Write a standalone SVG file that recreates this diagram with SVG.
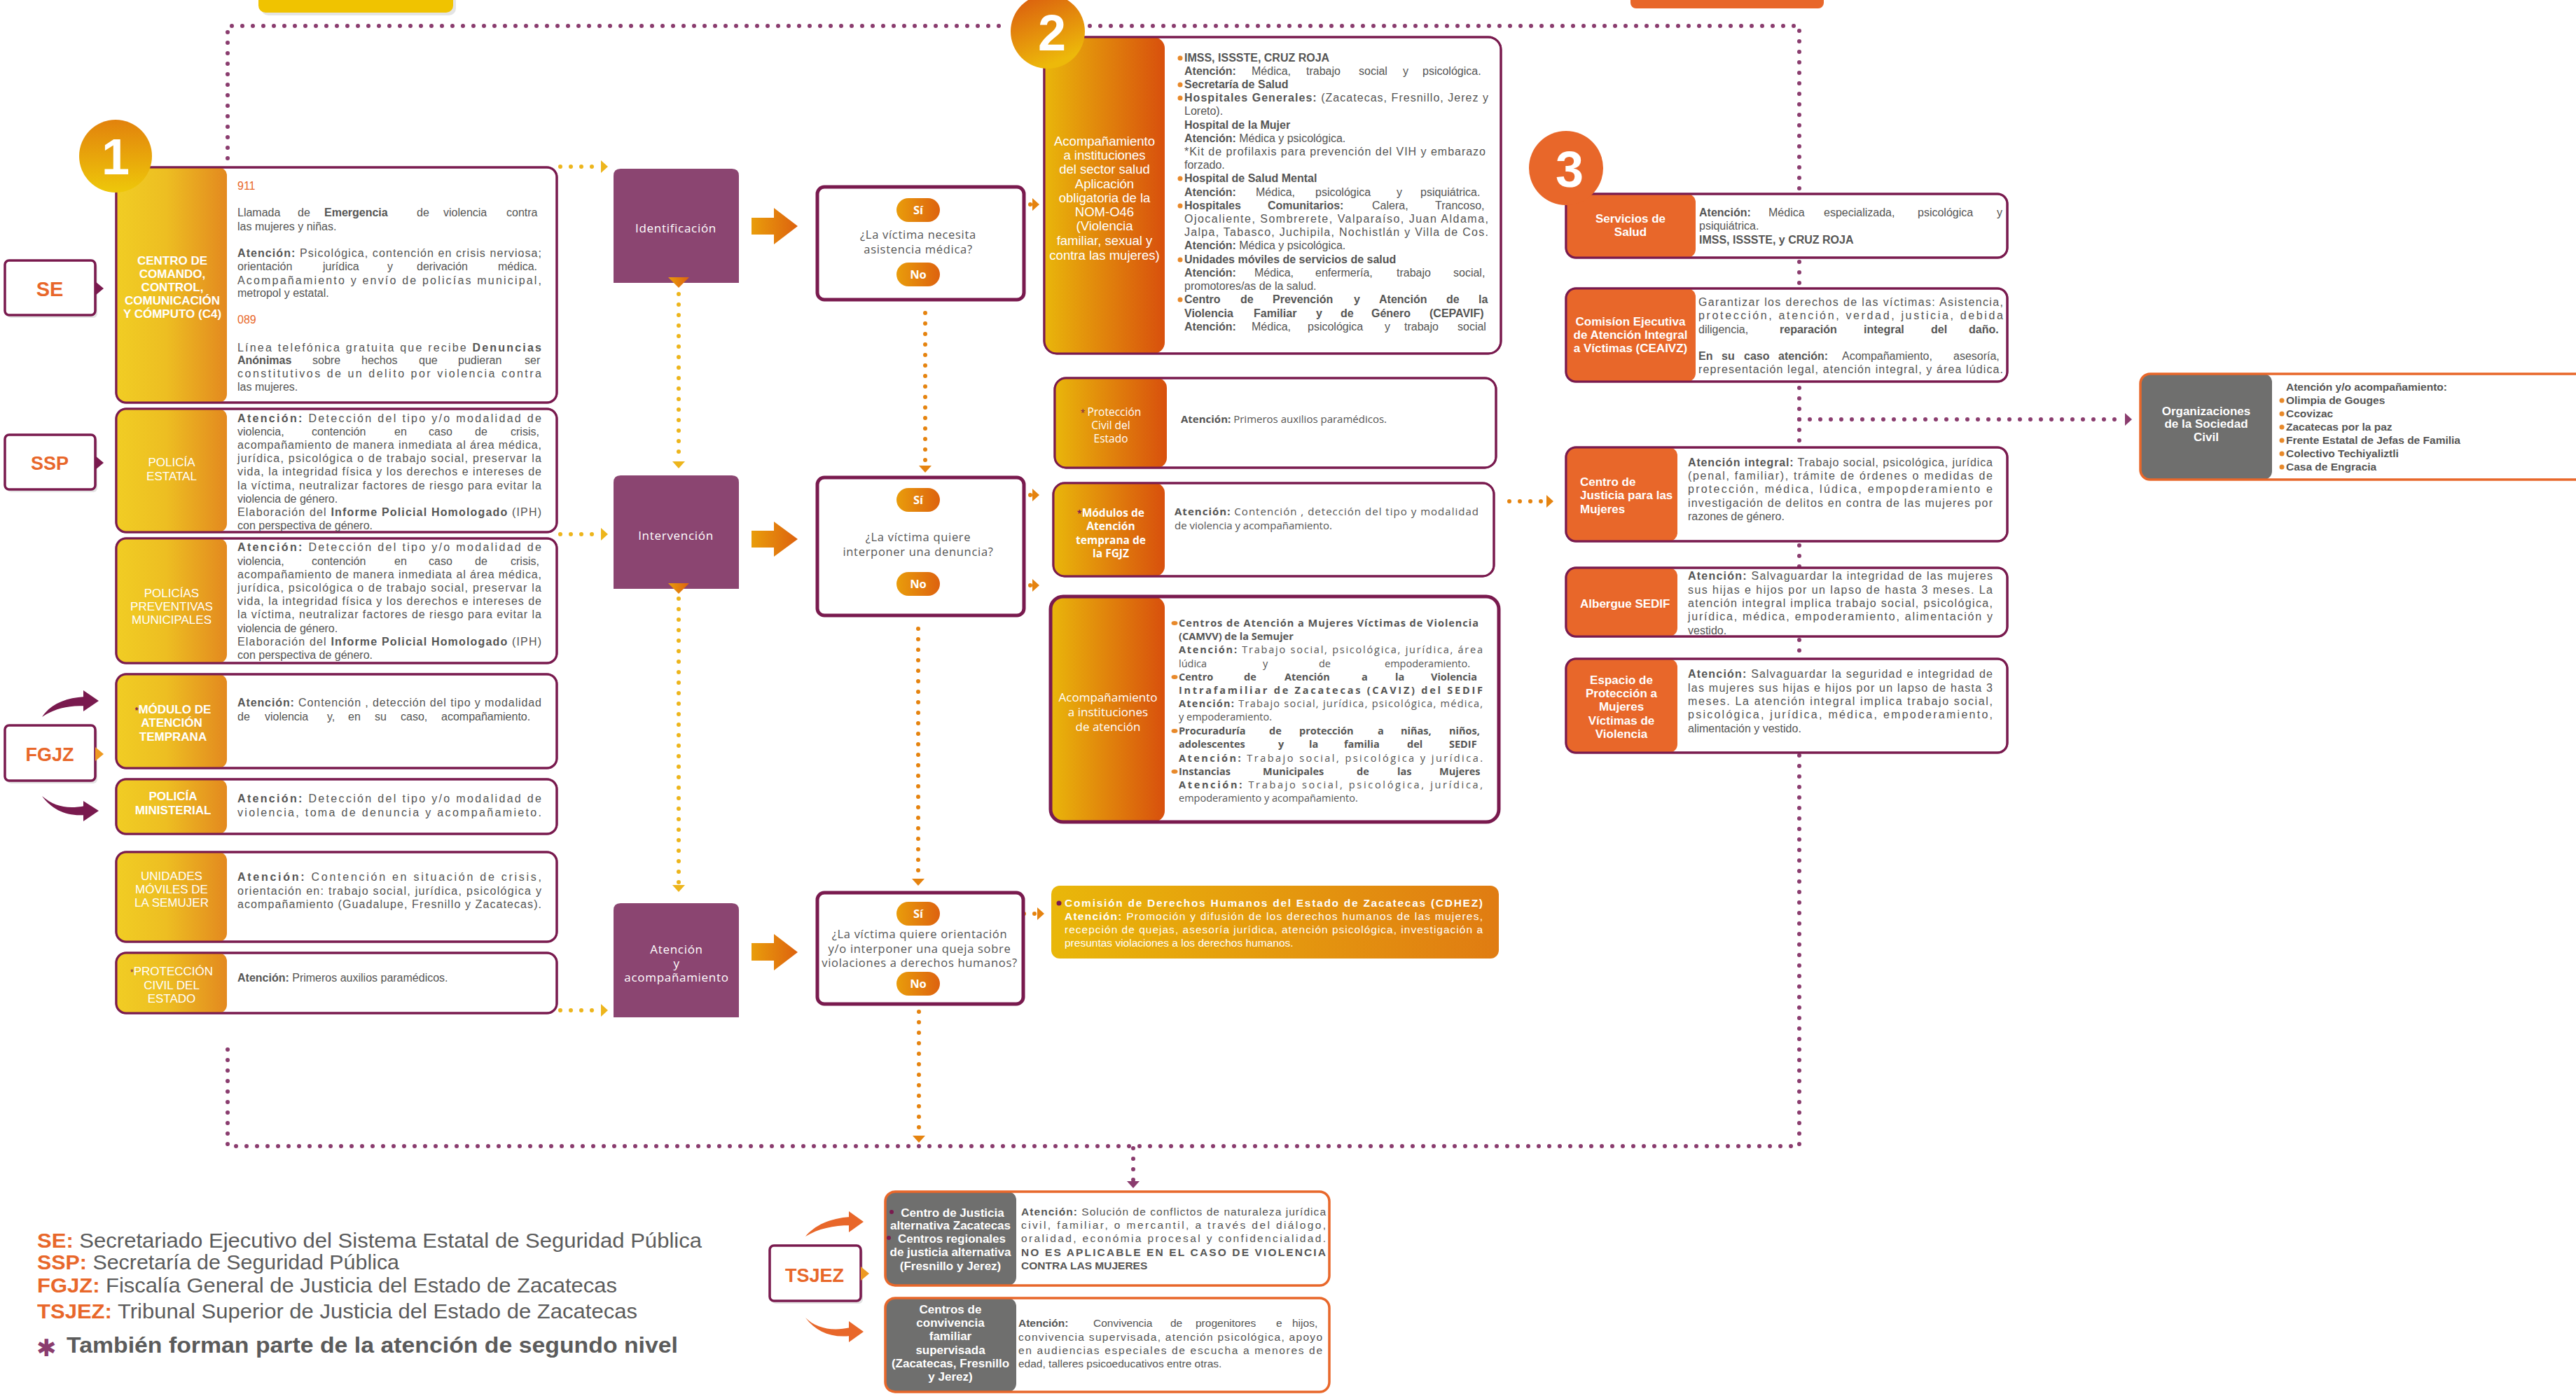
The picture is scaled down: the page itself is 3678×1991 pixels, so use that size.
<svg xmlns="http://www.w3.org/2000/svg" width="3678" height="1991" viewBox="0 0 3678 1991">
<defs>
<style>
.tl{font-family:'Liberation Sans',Arial,sans-serif;font-size:16px;fill:#555554}
.tm{font-family:'Liberation Sans',Arial,sans-serif;font-size:15.5px;fill:#555554}
.og{font-family:'Open Sans','Liberation Sans',sans-serif;fill:#555554}
.b{font-weight:bold}
.pt{font-family:'Liberation Sans',Arial,sans-serif;font-size:17px;fill:#fff;text-anchor:middle}
.ptb{font-weight:bold}
.pts{text-anchor:start}
.ogw{font-family:'Open Sans','Liberation Sans',sans-serif;fill:#fff;text-anchor:middle}
.bx{fill:#fff;stroke:#791A4E;stroke-width:3}
.sk{fill:none;stroke:#791A4E;stroke-width:3}
.skt{fill:none;stroke:#791A4E;stroke-width:5}
.sko{fill:none;stroke:#E8672A;stroke-width:3.5}
.dec{fill:#fff;stroke:#791A4E;stroke-width:5}
.mp{fill:#8B4571}
.or{fill:#E8672A}
.gr{fill:#6F6F6E}
.lab{font-family:'Liberation Sans',Arial,sans-serif;font-weight:bold;font-size:27px;fill:#E8672A;text-anchor:middle}
.dp{fill:none;stroke:#8A3C6E;stroke-width:6;stroke-linecap:round;stroke-dasharray:0 15}
.dy{fill:none;stroke:#EDB51C;stroke-width:6;stroke-linecap:round;stroke-dasharray:0 15}
.do{fill:none;stroke:#E5830F;stroke-width:6;stroke-linecap:round;stroke-dasharray:0 15}
.pill{fill:url(#go)}
.pl{font-family:'Open Sans','Liberation Sans',sans-serif;font-weight:bold;font-size:16.5px;fill:#fff;text-anchor:middle}
.q{font-family:'Open Sans','Liberation Sans',sans-serif;font-size:16.5px;fill:#555;text-anchor:middle;letter-spacing:0.7px}
.ml{font-family:'Open Sans','Liberation Sans',sans-serif;font-size:17px;fill:#fff;text-anchor:middle;letter-spacing:0.7px}
.ast{fill:#7A1A4F}
.bo{fill:#E8892A}
.bp{fill:#7A1A4F}
.num{font-family:'Liberation Sans',Arial,sans-serif;font-weight:bold;font-size:72px;fill:#fff;text-anchor:middle}
.sh{fill:#E4E4E4}
.leg{font-family:'Liberation Sans',Arial,sans-serif;font-size:29px;fill:#5B5B5B}
.lk{font-weight:bold;fill:#E8672A}
.wt{fill:#fff}
</style>
<linearGradient id="gy" x1="0" y1="0" x2="1" y2="0"><stop offset="0" stop-color="#F1CD24"/><stop offset="0.45" stop-color="#EDBE22"/><stop offset="1" stop-color="#E3891F"/></linearGradient>
<linearGradient id="g2" x1="0" y1="0" x2="1" y2="0"><stop offset="0" stop-color="#E9B60B"/><stop offset="1" stop-color="#D8500D"/></linearGradient>
<linearGradient id="go" x1="0" y1="0" x2="1" y2="0"><stop offset="0" stop-color="#E99D0B"/><stop offset="1" stop-color="#DD620F"/></linearGradient>
<linearGradient id="gc1" x1="0" y1="0" x2="0" y2="1"><stop offset="0" stop-color="#E2820C"/><stop offset="1" stop-color="#EEC80A"/></linearGradient>
<linearGradient id="gc2" x1="0" y1="0" x2="0.4" y2="1"><stop offset="0" stop-color="#D9560F"/><stop offset="1" stop-color="#EDB90A"/></linearGradient>
<linearGradient id="gcd" x1="0" y1="0" x2="1" y2="0"><stop offset="0" stop-color="#E9B70A"/><stop offset="1" stop-color="#E07C12"/></linearGradient>
<marker id="ay" markerUnits="userSpaceOnUse" viewBox="0 0 10 18" refX="0" refY="9" markerWidth="10" markerHeight="18" orient="auto"><path d="M0,0 L10,9 L0,18 Z" fill="#EDB51C"/></marker>
<marker id="ao" markerUnits="userSpaceOnUse" viewBox="0 0 10 18" refX="0" refY="9" markerWidth="10" markerHeight="18" orient="auto"><path d="M0,0 L10,9 L0,18 Z" fill="#E5830F"/></marker>
<marker id="ap" markerUnits="userSpaceOnUse" viewBox="0 0 10 18" refX="0" refY="9" markerWidth="10" markerHeight="18" orient="auto"><path d="M0,0 L10,9 L0,18 Z" fill="#8A3C6E"/></marker>
</defs>
<rect width="3678" height="1991" fill="#fff"/>

<g id="top-cut-boxes">
<rect x="373" y="-12" width="278" height="34" rx="10" class="sh"/>
<rect x="369" y="-12" width="278" height="30" rx="10" fill="#F0C300"/>
<rect x="2328" y="-12" width="276" height="24" rx="8" fill="#E8672A"/>
</g>

<g id="connectors">
<path class="dp" d="M325,226 V37 H1440"/>
<path class="dp" d="M1556,37 H2569 V1637 H325 V1492"/>
<path class="dp" d="M2569,599 H3034" marker-end="url(#ap)"/>
<path class="dp" d="M1618,1640 V1687" marker-end="url(#ap)"/>
<path class="dy" d="M800,238 H858" marker-end="url(#ay)"/>
<path class="dy" d="M800,763 H858" marker-end="url(#ay)"/>
<path class="dy" d="M800,1443 H858" marker-end="url(#ay)"/>
<path class="dy" d="M969,420 V659" marker-end="url(#ay)"/>
<path class="dy" d="M969,855 V1264" marker-end="url(#ay)"/>
<path class="do" d="M1351,292 H1474" marker-end="url(#ao)"/>
<path class="do" d="M1321,447 V665" marker-end="url(#ao)"/>
<path class="do" d="M1351,707 H1474" marker-end="url(#ao)"/>
<path class="do" d="M1351,836 H1474" marker-end="url(#ao)"/>
<path class="do" d="M1311,898 V1255" marker-end="url(#ao)"/>
<path class="do" d="M1357,1305 H1481" marker-end="url(#ao)"/>
<path class="do" d="M1312,1445 V1622" marker-end="url(#ao)"/>
<path class="do" d="M2155,716 H2208" marker-end="url(#ao)"/>
<path d="M1073,311 H1105 V297 L1139,323 L1105,349 V335 H1073 Z" fill="url(#go)"/>
<path d="M1073,758 H1105 V745 L1139,770 L1105,795 V782 H1073 Z" fill="url(#go)"/>
<path d="M1073,1347 H1105 V1334 L1139,1360 L1105,1386 V1372 H1073 Z" fill="url(#go)"/>
<path d="M60,1024 C72,1006 92,997 121,995 L121,1008 C96,1008 78,1012 60,1024 Z M119,986 L141,1001 L119,1016 Z" fill="#791A4E"/>
<path d="M60,1137 C78,1152 96,1156 121,1151 L121,1164 C94,1166 74,1156 60,1137 Z M119,1144 L141,1158 L119,1173 Z" fill="#791A4E"/>
<path d="M1150,1766 C1163,1750 1185,1740 1214,1738 L1214,1750 C1190,1750 1168,1755 1150,1766 Z M1212,1730 L1233,1745 L1212,1760 Z" fill="#E8672A"/>
<path d="M1150,1882 C1165,1897 1188,1902 1214,1896 L1214,1908 C1186,1911 1165,1902 1150,1882 Z M1212,1887 L1233,1902 L1212,1917 Z" fill="#E8672A"/>
</g>

<g id="n-se">
<rect x="10" y="376" width="129" height="78" rx="6" class="sh"/>
<rect x="7" y="372" width="129" height="78" rx="6" fill="#fff" stroke="#791A4E" stroke-width="3.5"/>
<path d="M136,402 L148,412 L136,422 Z" fill="#791A4E"/>
<text class="lab" x="71" y="423" style="font-size:29px">SE</text>
</g>
<g id="n-ssp">
<rect x="10" y="625" width="129" height="78" rx="6" class="sh"/>
<rect x="7" y="621" width="129" height="78" rx="6" fill="#fff" stroke="#791A4E" stroke-width="3.5"/>
<path d="M136,651 L148,661 L136,671 Z" fill="#791A4E"/>
<text class="lab" x="71" y="671">SSP</text>
</g>
<g id="n-fgjz">
<rect x="10" y="1040" width="129" height="79" rx="6" class="sh"/>
<rect x="7" y="1036" width="129" height="79" rx="6" fill="#fff" stroke="#791A4E" stroke-width="3.5"/>
<path d="M136,1067 L148,1077 L136,1087 Z" fill="#EE9A22"/>
<text class="lab" x="71" y="1087">FGJZ</text>
</g>
<g id="n-tsjez">
<rect x="1102" y="1783" width="130" height="79" rx="6" class="sh"/>
<rect x="1099" y="1779" width="130" height="79" rx="6" fill="#fff" stroke="#791A4E" stroke-width="3.5"/>
<path d="M1229,1809 L1241,1819 L1229,1829 Z" fill="#EE9A22"/>
<text class="lab" x="1163" y="1831">TSJEZ</text>
</g>

<g id="n-c4">
<rect class="bx" x="166" y="239" width="629" height="336" rx="14"/>
<rect x="166" y="239" width="158" height="336" rx="12" fill="url(#gy)"/>
<rect class="sk" x="166" y="239" width="629" height="336" rx="14"/>
<g class="pt ptb">
<text x="246" y="378">CENTRO DE</text><text x="246" y="397">COMANDO,</text><text x="246" y="416">CONTROL,</text><text x="246" y="435">COMUNICACIÓN</text><text x="246" y="454">Y CÓMPUTO (C4)</text>
</g>
<g class="tl">
<text x="339" y="271" style="fill:#E8672A">911</text>
<text y="309"><tspan x="339">Llamada</tspan><tspan x="425">de</tspan><tspan x="463" class="b">Emergencia</tspan><tspan x="595">de</tspan><tspan x="633">violencia</tspan><tspan x="723">contra</tspan></text>
<text x="339" y="329">las mujeres y niñas.</text>
<text x="339" y="367" textLength="434" lengthAdjust="spacing"><tspan class="b">Atención:</tspan> Psicológica, contención en crisis nerviosa;</text>
<text y="386"><tspan x="339">orientación</tspan><tspan x="461">jurídica</tspan><tspan x="553">y</tspan><tspan x="595">derivación</tspan><tspan x="711">médica.</tspan></text>
<text x="339" y="406" textLength="434" lengthAdjust="spacing">Acompañamiento y envío de policías municipal,</text>
<text x="339" y="424">metropol y estatal.</text>
<text x="339" y="462" style="fill:#E8672A">089</text>
<text x="339" y="502" textLength="434" lengthAdjust="spacing">Línea telefónica gratuita que recibe <tspan class="b">Denuncias</tspan></text>
<text y="520"><tspan x="339" class="b">Anónimas</tspan><tspan x="446">sobre</tspan><tspan x="516">hechos</tspan><tspan x="598">que</tspan><tspan x="654">pudieran</tspan><tspan x="749">ser</tspan></text>
<text x="339" y="539" textLength="434" lengthAdjust="spacing">constitutivos de un delito por violencia contra</text>
<text x="339" y="558">las mujeres.</text>
</g>
</g>
<g id="n-circle1">
<circle cx="165" cy="223" r="52" fill="url(#gc1)"/>
<text class="num" x="165" y="249">1</text>
</g>

<g id="n-policia-estatal">
<rect class="bx" x="166" y="584" width="629" height="176" rx="14"/>
<rect x="166" y="584" width="158" height="176" rx="12" fill="url(#gy)"/>
<rect class="sk" x="166" y="584" width="629" height="176" rx="14"/>
<g class="pt"><text x="245" y="666">POLICÍA</text><text x="245" y="686">ESTATAL</text></g>
<g class="tl">
<text x="339" y="603" textLength="434" lengthAdjust="spacing"><tspan class="b">Atención:</tspan> Detección del tipo y/o modalidad de</text>
<text y="622"><tspan x="339">violencia,</tspan><tspan x="445">contención</tspan><tspan x="563">en</tspan><tspan x="612">caso</tspan><tspan x="678">de</tspan><tspan x="729">crisis,</tspan></text>
<text x="339" y="641" textLength="434" lengthAdjust="spacing">acompañamiento de manera inmediata al área médica,</text>
<text x="339" y="660" textLength="434" lengthAdjust="spacing">jurídica, psicológica o de trabajo social, preservar la</text>
<text x="339" y="679" textLength="434" lengthAdjust="spacing">vida, la integridad física y los derechos e intereses de</text>
<text x="339" y="699" textLength="434" lengthAdjust="spacing">la víctima, neutralizar factores de riesgo para evitar la</text>
<text x="339" y="718">violencia de género.</text>
<text x="339" y="737" textLength="434" lengthAdjust="spacing">Elaboración del <tspan class="b">Informe Policial Homologado</tspan> (IPH)</text>
<text x="339" y="756">con perspectiva de género.</text>
</g>
</g>

<g id="n-policias-preventivas">
<rect class="bx" x="166" y="769" width="629" height="178" rx="14"/>
<rect x="166" y="769" width="158" height="178" rx="12" fill="url(#gy)"/>
<rect class="sk" x="166" y="769" width="629" height="178" rx="14"/>
<g class="pt"><text x="245" y="853">POLICÍAS</text><text x="245" y="872">PREVENTIVAS</text><text x="245" y="891">MUNICIPALES</text></g>
<g class="tl">
<text x="339" y="787" textLength="434" lengthAdjust="spacing"><tspan class="b">Atención:</tspan> Detección del tipo y/o modalidad de</text>
<text y="807"><tspan x="339">violencia,</tspan><tspan x="445">contención</tspan><tspan x="563">en</tspan><tspan x="612">caso</tspan><tspan x="678">de</tspan><tspan x="729">crisis,</tspan></text>
<text x="339" y="826" textLength="434" lengthAdjust="spacing">acompañamiento de manera inmediata al área médica,</text>
<text x="339" y="845" textLength="434" lengthAdjust="spacing">jurídica, psicológica o de trabajo social, preservar la</text>
<text x="339" y="864" textLength="434" lengthAdjust="spacing">vida, la integridad física y los derechos e intereses de</text>
<text x="339" y="883" textLength="434" lengthAdjust="spacing">la víctima, neutralizar factores de riesgo para evitar la</text>
<text x="339" y="903">violencia de género.</text>
<text x="339" y="922" textLength="434" lengthAdjust="spacing">Elaboración del <tspan class="b">Informe Policial Homologado</tspan> (IPH)</text>
<text x="339" y="941">con perspectiva de género.</text>
</g>
</g>

<g id="n-modulo-atencion-temprana">
<rect class="bx" x="166" y="963" width="629" height="134" rx="14"/>
<rect x="166" y="963" width="158" height="134" rx="12" fill="url(#gy)"/>
<rect class="sk" x="166" y="963" width="629" height="134" rx="14"/>
<g class="pt ptb"><text x="247" y="1019"><tspan class="ast" font-size="12">*</tspan>MÓDULO DE</text><text x="245" y="1038">ATENCIÓN</text><text x="247" y="1058">TEMPRANA</text></g>
<g class="tl">
<text x="339" y="1009" textLength="434" lengthAdjust="spacing"><tspan class="b">Atención:</tspan> Contención , detección del tipo y modalidad</text>
<text y="1029"><tspan x="339">de</tspan><tspan x="378">violencia</tspan><tspan x="467">y,</tspan><tspan x="497">en</tspan><tspan x="535">su</tspan><tspan x="572">caso,</tspan><tspan x="630">acompañamiento.</tspan></text>
</g>
</g>

<g id="n-policia-ministerial">
<rect class="bx" x="166" y="1113" width="629" height="78" rx="14"/>
<rect x="166" y="1113" width="158" height="78" rx="12" fill="url(#gy)"/>
<rect class="sk" x="166" y="1113" width="629" height="78" rx="14"/>
<g class="pt ptb"><text x="247" y="1143">POLICÍA</text><text x="247" y="1163">MINISTERIAL</text></g>
<g class="tl">
<text x="339" y="1146" textLength="434" lengthAdjust="spacing"><tspan class="b">Atención:</tspan> Detección del tipo y/o modalidad de</text>
<text x="339" y="1166" textLength="434" lengthAdjust="spacing">violencia, toma de denuncia y acompañamieto.</text>
</g>
</g>

<g id="n-unidades-moviles">
<rect class="bx" x="166" y="1217" width="629" height="128" rx="14"/>
<rect x="166" y="1217" width="158" height="128" rx="12" fill="url(#gy)"/>
<rect class="sk" x="166" y="1217" width="629" height="128" rx="14"/>
<g class="pt"><text x="245" y="1257">UNIDADES</text><text x="245" y="1276">MÓVILES DE</text><text x="245" y="1295">LA SEMUJER</text></g>
<g class="tl">
<text x="339" y="1258" textLength="434" lengthAdjust="spacing"><tspan class="b">Atención:</tspan> Contención en situación de crisis,</text>
<text x="339" y="1278" textLength="434" lengthAdjust="spacing">orientación en: trabajo social, jurídica, psicológica y</text>
<text x="339" y="1297" textLength="434" lengthAdjust="spacing">acompañamiento (Guadalupe, Fresnillo y Zacatecas).</text>
</g>
</g>

<g id="n-proteccion-civil-1">
<rect class="bx" x="166" y="1361" width="629" height="86" rx="14"/>
<rect x="166" y="1361" width="158" height="86" rx="12" fill="url(#gy)"/>
<rect class="sk" x="166" y="1361" width="629" height="86" rx="14"/>
<g class="pt"><text x="245" y="1393"><tspan class="ast" font-size="12">*</tspan>PROTECCIÓN</text><text x="245" y="1413">CIVIL DEL</text><text x="245" y="1432">ESTADO</text></g>
<g class="tl"><text x="339" y="1402"><tspan class="b">Atención:</tspan> Primeros auxilios paramédicos.</text></g>
</g>

<g id="n-identificacion">
<path class="mp" d="M876,404 V251 Q876,241 886,241 H1045 Q1055,241 1055,251 V404 Z"/>
<path d="M954,396 H984 L969,411 Z" fill="url(#go)"/>
<text class="ml" x="965" y="332">Identificación</text>
</g>
<g id="n-intervencion">
<path class="mp" d="M876,841 V689 Q876,679 886,679 H1045 Q1055,679 1055,689 V841 Z"/>
<path d="M954,833 H984 L969,848 Z" fill="url(#go)"/>
<text class="ml" x="965" y="771">Intervención</text>
</g>
<g id="n-atencion-acompanamiento">
<path class="mp" d="M876,1453 V1300 Q876,1290 886,1290 H1045 Q1055,1290 1055,1300 V1453 Z"/>
<g class="ml"><text x="966" y="1362">Atención</text><text x="966" y="1382">y</text><text x="966" y="1402">acompañamiento</text></g>
</g>

<g id="n-q-asistencia">
<rect class="dec" x="1167" y="267" width="295" height="161" rx="10"/>
<rect class="pill" x="1280" y="283" width="62" height="34" rx="17"/>
<text class="pl" x="1311" y="306">Sí</text>
<text class="q" x="1311" y="341">¿La víctima necesita</text>
<text class="q" x="1311" y="362">asistencia médica?</text>
<rect class="pill" x="1280" y="375" width="62" height="34" rx="17"/>
<text class="pl" x="1311" y="398">No</text>
</g>
<g id="n-q-denuncia">
<rect class="dec" x="1167" y="682" width="295" height="197" rx="10"/>
<rect class="pill" x="1280" y="697" width="62" height="34" rx="17"/>
<text class="pl" x="1311" y="720">Sí</text>
<text class="q" x="1311" y="773">¿La víctima quiere</text>
<text class="q" x="1311" y="794">interponer una denuncia?</text>
<rect class="pill" x="1280" y="817" width="62" height="34" rx="17"/>
<text class="pl" x="1311" y="840">No</text>
</g>
<g id="n-q-queja">
<rect class="dec" x="1167" y="1275" width="294" height="159" rx="10"/>
<rect class="pill" x="1280" y="1288" width="62" height="34" rx="17"/>
<text class="pl" x="1311" y="1311">Sí</text>
<text class="q" x="1313" y="1340">¿La víctima quiere orientación</text>
<text class="q" x="1313" y="1361">y/o interponer una queja sobre</text>
<text class="q" x="1313" y="1381">violaciones a derechos humanos?</text>
<rect class="pill" x="1280" y="1388" width="62" height="34" rx="17"/>
<text class="pl" x="1311" y="1411">No</text>
</g>

<g id="n-sector-salud">
<rect class="bx" x="1491" y="53" width="652" height="452" rx="18"/>
<rect x="1491" y="53" width="172" height="452" rx="16" fill="url(#g2)"/>
<rect class="sk" x="1491" y="53" width="652" height="452" rx="18"/>
<g class="pt" style="font-size:18.5px">
<text x="1577" y="208">Acompañamiento</text><text x="1577" y="228">a instituciones</text><text x="1577" y="248">del sector salud</text><text x="1577" y="269">Aplicación</text><text x="1577" y="289">obligatoria de la</text><text x="1577" y="309">NOM-O46</text><text x="1577" y="329">(Violencia</text><text x="1577" y="350">familiar, sexual y</text><text x="1577" y="371">contra las mujeres)</text>
</g>
<g class="bo">
<circle cx="1685" cy="83" r="3.5"/><circle cx="1685" cy="121" r="3.5"/><circle cx="1685" cy="140" r="3.5"/><circle cx="1685" cy="255" r="3.5"/><circle cx="1685" cy="294" r="3.5"/><circle cx="1685" cy="371" r="3.5"/><circle cx="1685" cy="428" r="3.5"/>
</g>
<g class="tl">
<text x="1691" y="88" class="b">IMSS, ISSSTE, CRUZ ROJA</text>
<text y="107"><tspan x="1691" class="b">Atención:</tspan><tspan x="1787">Médica,</tspan><tspan x="1865">trabajo</tspan><tspan x="1940">social</tspan><tspan x="2003">y</tspan><tspan x="2031">psicológica.</tspan></text>
<text x="1691" y="126" class="b">Secretaría de Salud</text>
<text x="1691" y="145" textLength="434" lengthAdjust="spacing"><tspan class="b">Hospitales Generales:</tspan> (Zacatecas, Fresnillo, Jerez y</text>
<text x="1691" y="164">Loreto).</text>
<text x="1691" y="184" class="b">Hospital de la Mujer</text>
<text x="1691" y="203"><tspan class="b">Atención:</tspan> Médica y psicológica.</text>
<text x="1691" y="222" textLength="430" lengthAdjust="spacing">*Kit de profilaxis para prevención del VIH y embarazo</text>
<text x="1691" y="241">forzado.</text>
<text x="1691" y="260" class="b">Hospital de Salud Mental</text>
<text y="280"><tspan x="1691" class="b">Atención:</tspan><tspan x="1793">Médica,</tspan><tspan x="1878">psicológica</tspan><tspan x="1994">y</tspan><tspan x="2028">psiquiátrica.</tspan></text>
<text y="299"><tspan x="1691" class="b">Hospitales</tspan><tspan x="1810" class="b">Comunitarios:</tspan><tspan x="1959">Calera,</tspan><tspan x="2049">Trancoso,</tspan></text>
<text x="1691" y="318" textLength="434" lengthAdjust="spacing">Ojocaliente, Sombrerete, Valparaíso, Juan Aldama,</text>
<text x="1691" y="337" textLength="434" lengthAdjust="spacing">Jalpa, Tabasco, Juchipila, Nochistlán y Villa de Cos.</text>
<text x="1691" y="356"><tspan class="b">Atención:</tspan> Médica y psicológica.</text>
<text x="1691" y="376" class="b">Unidades móviles de servicios de salud</text>
<text y="395"><tspan x="1691" class="b">Atención:</tspan><tspan x="1791">Médica,</tspan><tspan x="1878">enfermería,</tspan><tspan x="1994">trabajo</tspan><tspan x="2075">social,</tspan></text>
<text x="1691" y="414">promotores/as de la salud.</text>
<text y="433" class="b"><tspan x="1691">Centro</tspan><tspan x="1771">de</tspan><tspan x="1817">Prevención</tspan><tspan x="1933">y</tspan><tspan x="1969">Atención</tspan><tspan x="2065">de</tspan><tspan x="2111">la</tspan></text>
<text y="453" class="b"><tspan x="1691">Violencia</tspan><tspan x="1790">Familiar</tspan><tspan x="1879">y</tspan><tspan x="1914">de</tspan><tspan x="1958">Género</tspan><tspan x="2041">(CEPAVIF)</tspan></text>
<text y="472"><tspan x="1691" class="b">Atención:</tspan><tspan x="1787">Médica,</tspan><tspan x="1867">psicológica</tspan><tspan x="1977">y</tspan><tspan x="2005">trabajo</tspan><tspan x="2081">social</tspan></text>
</g>
</g>
<g id="n-circle2">
<circle cx="1496" cy="45" r="53" fill="url(#gc2)"/>
<text class="num" x="1502" y="72">2</text>
</g>

<g id="n-proteccion-civil-2">
<rect class="bx" x="1506" y="540" width="630" height="128" rx="16"/>
<rect x="1506" y="540" width="160" height="128" rx="14" fill="url(#g2)"/>
<rect class="sk" x="1506" y="540" width="630" height="128" rx="16"/>
<g class="ogw" font-size="15.5"><text x="1586" y="594"><tspan class="ast" font-size="12">* </tspan>Protección</text><text x="1586" y="613">Civil del</text><text x="1586" y="632">Estado</text></g>
<text class="og" font-size="15" x="1686" y="604"><tspan class="b">Atención:</tspan> Primeros auxilios paramédicos.</text>
</g>

<g id="n-modulos-fgjz">
<rect class="bx" x="1504" y="690" width="629" height="133" rx="16"/>
<rect x="1504" y="690" width="159" height="133" rx="14" fill="url(#g2)"/>
<rect class="sk" x="1504" y="690" width="629" height="133" rx="16"/>
<g class="ogw b" font-size="15.5"><text x="1586" y="738"><tspan class="ast" font-size="12">*</tspan>Módulos de</text><text x="1586" y="757">Atención</text><text x="1586" y="777">temprana de</text><text x="1586" y="796">la FGJZ</text></g>
<g class="og" font-size="15">
<text x="1677" y="736" textLength="434" lengthAdjust="spacing"><tspan class="b">Atención:</tspan> Contención , detección del tipo y modalidad</text>
<text x="1677" y="756">de violencia y  acompañamiento.</text>
</g>
</g>

<g id="n-instituciones-atencion">
<rect class="bx" x="1500" y="852" width="640" height="322" rx="18"/>
<rect x="1500" y="852" width="163" height="322" rx="16" fill="url(#g2)"/>
<rect class="skt" x="1500" y="852" width="640" height="322" rx="18"/>
<g class="ogw" font-size="17"><text x="1582" y="1002">Acompañamiento</text><text x="1582" y="1023">a instituciones</text><text x="1582" y="1044">de atención</text></g>
<g class="bo"><ellipse cx="1677" cy="890" rx="4.5" ry="3"/><ellipse cx="1677" cy="967" rx="4.5" ry="3"/><ellipse cx="1677" cy="1044" rx="4.5" ry="3"/><ellipse cx="1677" cy="1102" rx="4.5" ry="3"/></g>
<g class="og" font-size="14.5">
<text x="1683" y="895" class="b" textLength="428" lengthAdjust="spacing">Centros de Atención a Mujeres Víctimas de Violencia</text>
<text x="1683" y="914" class="b">(CAMVV) de la Semujer</text>
<text x="1683" y="933" textLength="434" lengthAdjust="spacing"><tspan class="b">Atención:</tspan> Trabajo social, psicológica, jurídica, área</text>
<text y="953"><tspan x="1683">lúdica</tspan><tspan x="1803">y</tspan><tspan x="1883">de</tspan><tspan x="1977">empoderamiento.</tspan></text>
<text y="972" class="b"><tspan x="1683">Centro</tspan><tspan x="1776">de</tspan><tspan x="1834">Atención</tspan><tspan x="1944">a</tspan><tspan x="1992">la</tspan><tspan x="2043">Violencia</tspan></text>
<text x="1683" y="991" class="b" textLength="434" lengthAdjust="spacing">Intrafamiliar de Zacatecas (CAVIZ) del SEDIF</text>
<text x="1683" y="1010" textLength="434" lengthAdjust="spacing"><tspan class="b">Atención:</tspan> Trabajo social, jurídica, psicológica, médica,</text>
<text x="1683" y="1029">y empoderamiento.</text>
<text y="1049" class="b"><tspan x="1683">Procuraduría</tspan><tspan x="1812">de</tspan><tspan x="1855">protección</tspan><tspan x="1967">a</tspan><tspan x="2000">niñas,</tspan><tspan x="2069">niños,</tspan></text>
<text y="1068" class="b"><tspan x="1683">adolescentes</tspan><tspan x="1825">y</tspan><tspan x="1869">la</tspan><tspan x="1919">familia</tspan><tspan x="2009">del</tspan><tspan x="2069">SEDIF</tspan></text>
<text x="1683" y="1088" textLength="434" lengthAdjust="spacing"><tspan class="b">Atención:</tspan> Trabajo social, psicológica y jurídica.</text>
<text y="1107" class="b"><tspan x="1683">Instancias</tspan><tspan x="1803">Municipales</tspan><tspan x="1937">de</tspan><tspan x="1995">las</tspan><tspan x="2055">Mujeres</tspan></text>
<text x="1683" y="1126" textLength="434" lengthAdjust="spacing"><tspan class="b">Atención:</tspan> Trabajo social, psicológica, jurídica,</text>
<text x="1683" y="1145">empoderamiento y acompañamiento.</text>
</g>
</g>

<g id="n-cdhez">
<rect x="1501" y="1265" width="639" height="104" rx="12" fill="url(#gcd)"/>
<circle cx="1512" cy="1290" r="3.5" class="bp"/>
<g class="tm">
<text x="1520" y="1295" class="b wt" textLength="597" lengthAdjust="spacing">Comisión de Derechos Humanos del Estado de Zacatecas (CDHEZ)</text>
<text x="1520" y="1314" class="wt" textLength="597" lengthAdjust="spacing"><tspan class="b">Atención:</tspan> Promoción y difusión de los derechos humanos de las mujeres,</text>
<text x="1520" y="1333" class="wt" textLength="597" lengthAdjust="spacing">recepción de quejas, asesoría jurídica, atención psicológica, investigación a</text>
<text x="1520" y="1352" class="wt">presuntas violaciones a los derechos humanos.</text>
</g>
</g>

<g id="n-servicios-salud">
<rect class="bx" x="2236" y="277" width="630" height="91" rx="14"/>
<rect class="or" x="2236" y="277" width="185" height="91" rx="12"/>
<rect class="sk" x="2236" y="277" width="630" height="91" rx="14"/>
<g class="pt ptb"><text x="2328" y="318">Servicios de</text><text x="2328" y="337">Salud</text></g>
<g class="tl">
<text y="309"><tspan x="2426" class="b">Atención:</tspan><tspan x="2525">Médica</tspan><tspan x="2604">especializada,</tspan><tspan x="2738">psicológica</tspan><tspan x="2851">y</tspan></text>
<text x="2426" y="328">psiquiátrica.</text>
<text x="2426" y="348" class="b">IMSS, ISSSTE, y CRUZ ROJA</text>
</g>
</g>
<g id="n-circle3">
<circle cx="2236" cy="240" r="53" class="or"/>
<text class="num" x="2241" y="267">3</text>
</g>

<g id="n-ceaivz">
<rect class="bx" x="2236" y="412" width="630" height="133" rx="14"/>
<rect class="or" x="2236" y="412" width="185" height="133" rx="12"/>
<rect class="sk" x="2236" y="412" width="630" height="133" rx="14"/>
<g class="pt ptb"><text x="2328" y="465">Comisíon Ejecutiva</text><text x="2328" y="484">de Atención Integral</text><text x="2328" y="503">a Víctimas (CEAIVZ)</text></g>
<g class="tl">
<text x="2425" y="437" textLength="435" lengthAdjust="spacing">Garantizar los derechos de las víctimas: Asistencia,</text>
<text x="2425" y="456" textLength="435" lengthAdjust="spacing">protección, atención, verdad, justicia, debida</text>
<text y="476"><tspan x="2425">diligencia,</tspan><tspan x="2541" class="b">reparación</tspan><tspan x="2661" class="b">integral</tspan><tspan x="2757" class="b">del</tspan><tspan x="2811" class="b">daño.</tspan></text>
<text y="514"><tspan x="2425" class="b">En</tspan><tspan x="2458" class="b">su</tspan><tspan x="2490" class="b">caso</tspan><tspan x="2539" class="b">atención:</tspan><tspan x="2630">Acompañamiento,</tspan><tspan x="2789">asesoría,</tspan></text>
<text x="2425" y="533" textLength="435" lengthAdjust="spacing">representación legal, atención integral, y área lúdica.</text>
</g>
</g>

<g id="n-centro-justicia">
<rect class="bx" x="2236" y="639" width="630" height="134" rx="14"/>
<rect class="or" x="2236" y="639" width="159" height="134" rx="12"/>
<rect class="sk" x="2236" y="639" width="630" height="134" rx="14"/>
<g class="pt ptb pts"><text x="2256" y="694">Centro de</text><text x="2256" y="713">Justicia para las</text><text x="2256" y="733">Mujeres</text></g>
<g class="tl">
<text x="2410" y="666" textLength="435" lengthAdjust="spacing"><tspan class="b">Atención integral:</tspan> Trabajo social, psicológica, jurídica</text>
<text x="2410" y="685" textLength="435" lengthAdjust="spacing">(penal, familiar), trámite de órdenes o medidas de</text>
<text x="2410" y="704" textLength="435" lengthAdjust="spacing">protección, médica, lúdica, empopderamiento e</text>
<text x="2410" y="724" textLength="435" lengthAdjust="spacing">investigación de delitos en contra de las mujeres por</text>
<text x="2410" y="743">razones de género.</text>
</g>
</g>

<g id="n-albergue">
<rect class="bx" x="2236" y="811" width="630" height="98" rx="14"/>
<rect class="or" x="2236" y="811" width="159" height="98" rx="12"/>
<rect class="sk" x="2236" y="811" width="630" height="98" rx="14"/>
<text class="pt ptb pts" x="2256" y="868">Albergue SEDIF</text>
<g class="tl">
<text x="2410" y="828" textLength="435" lengthAdjust="spacing"><tspan class="b">Atención:</tspan> Salvaguardar la integridad de las mujeres</text>
<text x="2410" y="848" textLength="435" lengthAdjust="spacing">sus hijas e hijos por un lapso de hasta 3 meses. La</text>
<text x="2410" y="867" textLength="435" lengthAdjust="spacing">atención integral implica trabajo social, psicológica,</text>
<text x="2410" y="886" textLength="435" lengthAdjust="spacing">jurídica, médica, empoderamiento, alimentación y</text>
<text x="2410" y="906">vestido.</text>
</g>
</g>

<g id="n-espacio-proteccion">
<rect class="bx" x="2236" y="941" width="630" height="134" rx="14"/>
<rect class="or" x="2236" y="941" width="159" height="134" rx="12"/>
<rect class="sk" x="2236" y="941" width="630" height="134" rx="14"/>
<g class="pt ptb"><text x="2315" y="977">Espacio de</text><text x="2315" y="996">Protección a</text><text x="2315" y="1015">Mujeres</text><text x="2315" y="1035">Víctimas de</text><text x="2315" y="1054">Violencia</text></g>
<g class="tl">
<text x="2410" y="968" textLength="435" lengthAdjust="spacing"><tspan class="b">Atención:</tspan> Salvaguardar la seguridad e integridad de</text>
<text x="2410" y="988" textLength="435" lengthAdjust="spacing">las mujeres sus hijas e hijos por un lapso de hasta 3</text>
<text x="2410" y="1007" textLength="435" lengthAdjust="spacing">meses. La atención integral implica trabajo social,</text>
<text x="2410" y="1026" textLength="435" lengthAdjust="spacing">psicológica, jurídica, médica, empoderamiento,</text>
<text x="2410" y="1046">alimentación y vestido.</text>
</g>
</g>

<g id="n-organizaciones">
<rect x="3056" y="534" width="650" height="151" rx="14" fill="#fff"/>
<rect class="gr" x="3056" y="534" width="188" height="151" rx="12"/>
<rect class="sko" x="3056" y="534" width="650" height="151" rx="14"/>
<g class="pt ptb"><text x="3150" y="593">Organizaciones</text><text x="3150" y="611">de la Sociedad</text><text x="3150" y="630">Civil</text></g>
<g class="bo"><circle cx="3258" cy="572" r="3.5"/><circle cx="3258" cy="591" r="3.5"/><circle cx="3258" cy="610" r="3.5"/><circle cx="3258" cy="629" r="3.5"/><circle cx="3258" cy="648" r="3.5"/><circle cx="3258" cy="667" r="3.5"/></g>
<g class="tm b">
<text x="3264" y="558">Atención y/o acompañamiento:</text>
<text x="3264" y="577">Olimpia de Gouges</text>
<text x="3264" y="596">Ccovizac</text>
<text x="3264" y="615">Zacatecas por la paz</text>
<text x="3264" y="634">Frente Estatal de Jefas de Familia</text>
<text x="3264" y="653">Colectivo Techiyaliztli</text>
<text x="3264" y="672">Casa de Engracia</text>
</g>
</g>

<g id="n-justicia-alternativa">
<rect x="1264" y="1702" width="634" height="134" rx="14" fill="#fff"/>
<rect class="gr" x="1264" y="1702" width="187" height="134" rx="12"/>
<rect class="sko" x="1264" y="1702" width="634" height="134" rx="14"/>
<g class="bp"><circle cx="1273" cy="1731" r="3"/><circle cx="1269" cy="1768" r="3"/></g>
<g class="pt ptb"><text x="1360" y="1738">Centro de Justicia</text><text x="1357" y="1756">alternativa Zacatecas</text><text x="1359" y="1775">Centros regionales</text><text x="1357" y="1794">de justicia alternativa</text><text x="1357" y="1814">(Fresnillo y Jerez)</text></g>
<g class="tm">
<text x="1458" y="1736" textLength="435" lengthAdjust="spacing"><tspan class="b">Atención:</tspan> Solución de conflictos de naturaleza jurídica</text>
<text x="1458" y="1755" textLength="435" lengthAdjust="spacing">civil, familiar, o mercantil, a través del diálogo,</text>
<text x="1458" y="1774" textLength="435" lengthAdjust="spacing">oralidad, económia procesal y confidencialidad.</text>
<text x="1458" y="1794" class="b" textLength="435" lengthAdjust="spacing">NO ES APLICABLE EN EL CASO DE VIOLENCIA</text>
<text x="1458" y="1813" class="b">CONTRA LAS MUJERES</text>
</g>
</g>

<g id="n-convivencia-familiar">
<rect x="1264" y="1854" width="634" height="134" rx="14" fill="#fff"/>
<rect class="gr" x="1264" y="1854" width="187" height="134" rx="12"/>
<rect class="sko" x="1264" y="1854" width="634" height="134" rx="14"/>
<g class="pt ptb"><text x="1357" y="1876">Centros de</text><text x="1357" y="1895">convivencia</text><text x="1357" y="1914">familiar</text><text x="1357" y="1934">supervisada</text><text x="1357" y="1953">(Zacatecas, Fresnillo</text><text x="1357" y="1972">y Jerez)</text></g>
<g class="tm">
<text y="1895"><tspan x="1454" class="b">Atención:</tspan><tspan x="1561">Convivencia</tspan><tspan x="1671">de</tspan><tspan x="1707">progenitores</tspan><tspan x="1822">e</tspan><tspan x="1845">hijos,</tspan></text>
<text x="1454" y="1915" textLength="434" lengthAdjust="spacing">convivencia supervisada, atención psicológica, apoyo</text>
<text x="1454" y="1934" textLength="434" lengthAdjust="spacing">en audiencias especiales de escucha a menores de</text>
<text x="1454" y="1953">edad, talleres psicoeducativos entre otras.</text>
</g>
</g>

<g id="legend" class="leg">
<text x="53" y="1782" textLength="949" lengthAdjust="spacingAndGlyphs"><tspan class="lk">SE:</tspan> Secretariado Ejecutivo del Sistema Estatal de Seguridad Pública</text>
<text x="53" y="1813" textLength="517" lengthAdjust="spacingAndGlyphs"><tspan class="lk">SSP:</tspan> Secretaría de Seguridad Pública</text>
<text x="53" y="1846" textLength="828" lengthAdjust="spacingAndGlyphs"><tspan class="lk">FGJZ:</tspan>  Fiscalía General de Justicia del Estado de Zacatecas</text>
<text x="53" y="1883" textLength="857" lengthAdjust="spacingAndGlyphs"><tspan class="lk">TSJEZ:</tspan> Tribunal Superior de Justicia del Estado de Zacatecas</text>
<text x="52" y="1937" font-family="'DejaVu Sans',sans-serif" font-size="34" fill="#8A3C6E">✱</text>
<text x="95" y="1932" font-size="32" font-weight="bold" textLength="873" lengthAdjust="spacingAndGlyphs">También forman parte de la atención de segundo nivel</text>
</g>
</svg>
